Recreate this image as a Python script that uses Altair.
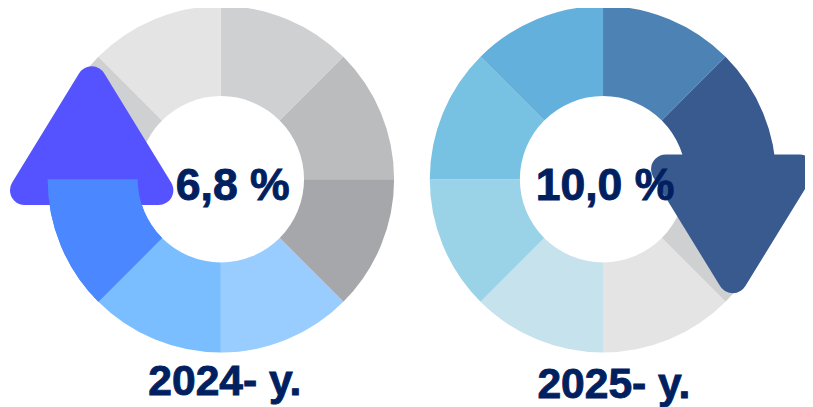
import altair as alt
import pandas as pd

# ---- data ----
segments = ["s1", "s2", "s3", "s4", "s5", "s6", "s7", "s8"]
shares = [1, 1, 1, 1, 1, 1, 1, 1]
rates = ["6,8 %", "10,0 %"]
years = ["2024- y.", "2025- y."]

# ---- styles ----
left_colors = ["#CFD0D2", "#BBBCBE", "#A6A7AA", "#99CCFF",
               "#7BBEFF", "#4B87FF", "#CFD0D2", "#E4E4E4"]
right_colors = ["#4C82B4", "#385A8E", "#CFD0D2", "#E4E4E4",
                "#C5E2ED", "#9AD3E7", "#77C2E2", "#63B0DC"]
navy = "#002060"

ring = pd.DataFrame({"seg": segments, "share": shares,
                     "idx": list(range(len(segments)))})
labels = pd.DataFrame({"rate": rates, "year": years, "k": [0, 1]})

W, H = 805, 399
R_OUT, R_IN = 175, 84

UP_PATH = "M0,-0.815 L1,0.815 L-1,0.815 Z"
DOWN_PATH = "M0,0.815 L1,-0.815 L-1,-0.815 Z"


def donut(colors, cx, cy, only=None):
    enc = dict(
        theta=alt.Theta("share:Q", stack=True),
        order=alt.Order("idx:Q"),
        color=alt.Color("seg:N", scale=alt.Scale(domain=segments, range=colors), legend=None),
        x=alt.value(cx), y=alt.value(cy),
    )
    if only is not None:
        enc["opacity"] = alt.condition(alt.datum.seg == only, alt.value(1), alt.value(0))
    return alt.Chart(ring).mark_arc(innerRadius=R_IN, outerRadius=R_OUT).encode(**enc)


def head(shape, color, cx, cy):
    return alt.Chart(labels).transform_filter(alt.datum.k == 0).mark_point(
        shape=shape, size=135 * 135, filled=True, fill=color, stroke=color,
        strokeWidth=30, strokeJoin="round", opacity=1, fillOpacity=1, strokeOpacity=1,
    ).encode(x=alt.value(cx), y=alt.value(cy))


def label(field, k, cx, cy, size):
    return alt.Chart(labels).transform_filter(alt.datum.k == k).mark_text(
        font="Liberation Sans", fontWeight="bold", fontSize=size, color=navy,
        stroke=navy, strokeWidth=0.9,
        align="center", baseline="alphabetic",
    ).encode(text=f"{field}:N", x=alt.value(cx), y=alt.value(cy))


left_ring = donut(left_colors, 215, 171)
right_ring = donut(right_colors, 601, 171)
left_body = donut(left_colors, 215, 171, only="s6")
left_head = head(UP_PATH, "#5552FF", 84.5, 127)
right_head = head(DOWN_PATH, "#385A8E", 732, 216)

chart = alt.layer(
    left_ring, right_ring, left_head, left_body, right_head,
    label("rate", 0, 227, 192, 45),
    label("rate", 1, 603, 192, 45),
    label("year", 0, 219, 389, 43),
    label("year", 1, 612, 392, 43),
).resolve_scale(color="independent", theta="independent").properties(
    width=W, height=H, autosize="none", padding=0,
).configure_view(strokeWidth=0)

chart.save("out.html", embed_options={"renderer": "svg", "actions": False})
